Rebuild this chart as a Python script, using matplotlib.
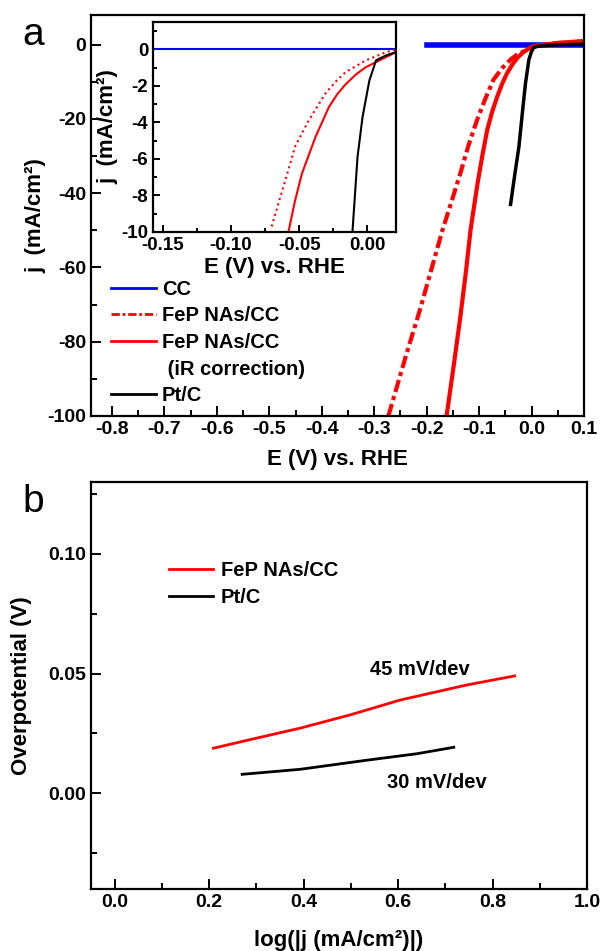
import numpy as np
import matplotlib
matplotlib.use("Agg")
import matplotlib.pyplot as plt
from matplotlib.lines import Line2D
from matplotlib.ticker import MultipleLocator

plt.rcParams["font.family"] = ["Liberation Sans", "DejaVu Sans"]
plt.rcParams["font.weight"] = "bold"
plt.rcParams["axes.linewidth"] = 1.6
plt.rcParams["axes.unicode_minus"] = False

# polarization curves, E (V vs RHE) / j (mA/cm2)
cc_E = [-0.20, -0.10, 0.00, 0.10]
cc_j = [0.0, 0.0, 0.0, 0.0]

fep_E = [-0.273, -0.240, -0.212, -0.190, -0.170, -0.152, -0.1355, -0.120, -0.1037,
         -0.088, -0.0725, -0.056, -0.040, -0.028, -0.015, -0.005, 0.005, 0.020,
         0.050, 0.100]
fep_j = [-100, -84, -71, -60, -50, -42, -34.5, -27, -20.2,
         -14.5, -9.4, -6.3, -4.0, -2.7, -1.8, -1.0, -0.4, 0.0,
         0.4, 0.9]

ir_E = [-0.162, -0.148, -0.1355, -0.125, -0.1164, -0.1037, -0.094, -0.0846,
        -0.075, -0.0655, -0.056, -0.0464, -0.037, -0.0273, -0.018, -0.008,
        0.000, 0.010, 0.050, 0.100]
ir_j = [-100, -86, -73, -61, -50, -38, -30, -23,
        -18, -14, -10.5, -7.6, -5.4, -3.6, -2.3, -1.3,
        -0.7, -0.3, 0.5, 1.0]

pt_E = [-0.040, -0.032, -0.024, -0.018, -0.0115, -0.005, 0.000, 0.004,
        0.010, 0.020, 0.050, 0.100]
pt_j = [-43, -35, -27.4, -19, -10.3, -4.0, -1.8, -0.8,
        -0.5, -0.3, 0.0, 0.1]

# zoomed region near onset
in_cc_E = [-0.157, -0.10, -0.05, 0.021]
in_cc_j = [0.0, 0.0, 0.0, 0.0]
in_fep_E = [-0.0701, -0.0650, -0.0602, -0.0528, -0.043, -0.0306, -0.023, -0.0158,
            -0.008, -0.001, 0.0138, 0.021]
in_fep_j = [-9.7, -8.4, -7.2, -5.3, -3.9, -2.4, -1.75, -1.24,
            -0.9, -0.6, -0.15, 0.0]
in_ir_E = [-0.0578, -0.0530, -0.0479, -0.038, -0.0281, -0.022, -0.0158, -0.008,
           -0.001, 0.0138, 0.021]
in_ir_j = [-10, -8.3, -6.8, -4.8, -3.15, -2.45, -1.9, -1.35,
           -0.97, -0.42, -0.15]
in_pt_E = [-0.0109, -0.0072, -0.0035, 0.0015, 0.0064, 0.0138, 0.021]
in_pt_j = [-10, -5.9, -3.7, -1.7, -0.6, -0.33, -0.15]

# Tafel plots
tafel_fep_x = [0.209, 0.300, 0.393, 0.500, 0.604, 0.745, 0.847]
tafel_fep_y = [0.0188, 0.0230, 0.0272, 0.0328, 0.0389, 0.0452, 0.0490]
tafel_pt_x = [0.270, 0.393, 0.534, 0.640, 0.718]
tafel_pt_y = [0.0079, 0.0100, 0.0138, 0.0165, 0.0192]
tafel_slopes = ["45 mV/dev", "30 mV/dev"]

W, H = 600, 951
fig = plt.figure(figsize=(W / 100, H / 100), dpi=100)


def box(l, t, r, b):
    return [l / W, 1 - b / H, (r - l) / W, (b - t) / H]


def style(ax, size=14):
    ax.tick_params(which="both", direction="in", top=False, right=False,
                   labelsize=size, width=1.4)
    ax.tick_params(which="major", length=7)
    ax.tick_params(which="minor", length=4)
    for lab in ax.get_xticklabels() + ax.get_yticklabels():
        lab.set_fontweight("bold")


# ---- panel a ----
ax1 = fig.add_axes(box(91, 15, 584, 416))
ax1.plot(cc_E, cc_j, color="#0000ff", lw=4)
ax1.plot(fep_E, fep_j, color="#ff0000", lw=3, ls=(0, (3, 1, 1, 1)))
ax1.plot(ir_E, ir_j, color="#ff0000", lw=3)
ax1.plot(pt_E, pt_j, color="black", lw=2.5)
ax1.set_xlim(-0.84, 0.10)
ax1.set_ylim(-100, 8)
ax1.xaxis.set_minor_locator(MultipleLocator(0.05))
ax1.yaxis.set_major_locator(MultipleLocator(20))
ax1.yaxis.set_minor_locator(MultipleLocator(10))
xt = [-0.8, -0.7, -0.6, -0.5, -0.4, -0.3, -0.2, -0.1, 0.0, 0.1]
ax1.set_xticks(xt)
ax1.set_xticklabels([f"{v:.1f}" for v in xt])
style(ax1)
ax1.set_xlabel("E (V) vs. RHE", fontsize=16, fontweight="bold", labelpad=8)
ax1.set_ylabel("j  (mA/cm²)", fontsize=16, fontweight="bold", labelpad=1)

handles = [
    Line2D([], [], color="#0000ff", lw=2),
    Line2D([], [], color="#ff0000", lw=2, ls=(0, (3, 1, 1, 1))),
    Line2D([], [], color="#ff0000", lw=2),
    Line2D([], [], color="none", lw=0),
    Line2D([], [], color="black", lw=2),
]
labels = ["CC", "FeP NAs/CC", "FeP NAs/CC", " (iR correction)", "Pt/C"]
ax1.legend(handles, labels, loc="upper left", bbox_to_anchor=(0.025, 0.36),
           frameon=False, handlelength=2.2, handletextpad=0.3,
           labelspacing=0.38, borderaxespad=0.0,
           prop={"size": 14.5, "weight": "bold"})

# inset
ax_in = fig.add_axes(box(153, 22, 396, 232))
ax_in.plot(in_cc_E, in_cc_j, color="#0000ff", lw=1.5)
ax_in.plot(in_fep_E, in_fep_j, color="#ff0000", lw=1.5, ls=":")
ax_in.plot(in_ir_E, in_ir_j, color="#ff0000", lw=1.5)
ax_in.plot(in_pt_E, in_pt_j, color="black", lw=1.5)
ax_in.set_xlim(-0.157, 0.021)
ax_in.set_ylim(-10, 1.5)
ax_in.xaxis.set_minor_locator(MultipleLocator(0.025))
ax_in.yaxis.set_major_locator(MultipleLocator(2))
ax_in.yaxis.set_minor_locator(MultipleLocator(1))
ax_in.set_xticks([-0.15, -0.10, -0.05, 0.00])
ax_in.set_xticklabels(["-0.15", "-0.10", "-0.05", "0.00"])
style(ax_in, 13.5)
ax_in.tick_params(which="major", length=5)
ax_in.tick_params(which="minor", length=3)
ax_in.set_xlabel("E (V) vs. RHE", fontsize=16, fontweight="bold", labelpad=2)
ax_in.set_ylabel("j  (mA/cm²)", fontsize=16, fontweight="bold", labelpad=2)

fig.text(22 / W, 1 - 45 / H, "a", fontsize=28, fontweight="normal")

# ---- panel b ----
ax2 = fig.add_axes(box(91, 482, 587, 889))
ax2.plot(tafel_fep_x, tafel_fep_y, color="#ff0000", lw=2, label="FeP NAs/CC")
ax2.plot(tafel_pt_x, tafel_pt_y, color="black", lw=2, label="Pt/C")
ax2.set_xlim(-0.05, 1.0)
ax2.set_ylim(-0.04, 0.13)
ax2.xaxis.set_minor_locator(MultipleLocator(0.1))
ax2.yaxis.set_minor_locator(MultipleLocator(0.025))
xb = [0.0, 0.2, 0.4, 0.6, 0.8, 1.0]
ax2.set_xticks(xb)
ax2.set_xticklabels([f"{v:.1f}" for v in xb])
ax2.set_yticks([0.0, 0.05, 0.10])
ax2.set_yticklabels(["0.00", "0.05", "0.10"])
style(ax2)
ax2.set_xlabel("log(|j (mA/cm²)|)", fontsize=16, fontweight="bold", labelpad=14)
ax2.set_ylabel("Overpotential (V)", fontsize=16, fontweight="bold", labelpad=12)
ax2.legend(loc="upper left", bbox_to_anchor=(0.12, 0.85), frameon=False,
           handlelength=2.2, handletextpad=0.4, labelspacing=0.4,
           prop={"size": 14.5, "weight": "bold"})
ax2.text(0.646, 0.0515, tafel_slopes[0], fontsize=14.5, fontweight="bold",
         ha="center", va="center")
ax2.text(0.682, 0.0046, tafel_slopes[1], fontsize=14.5, fontweight="bold",
         ha="center", va="center")

fig.text(22 / W, 1 - 512 / H, "b", fontsize=28, fontweight="normal")

fig.savefig("out.png", dpi=100)
